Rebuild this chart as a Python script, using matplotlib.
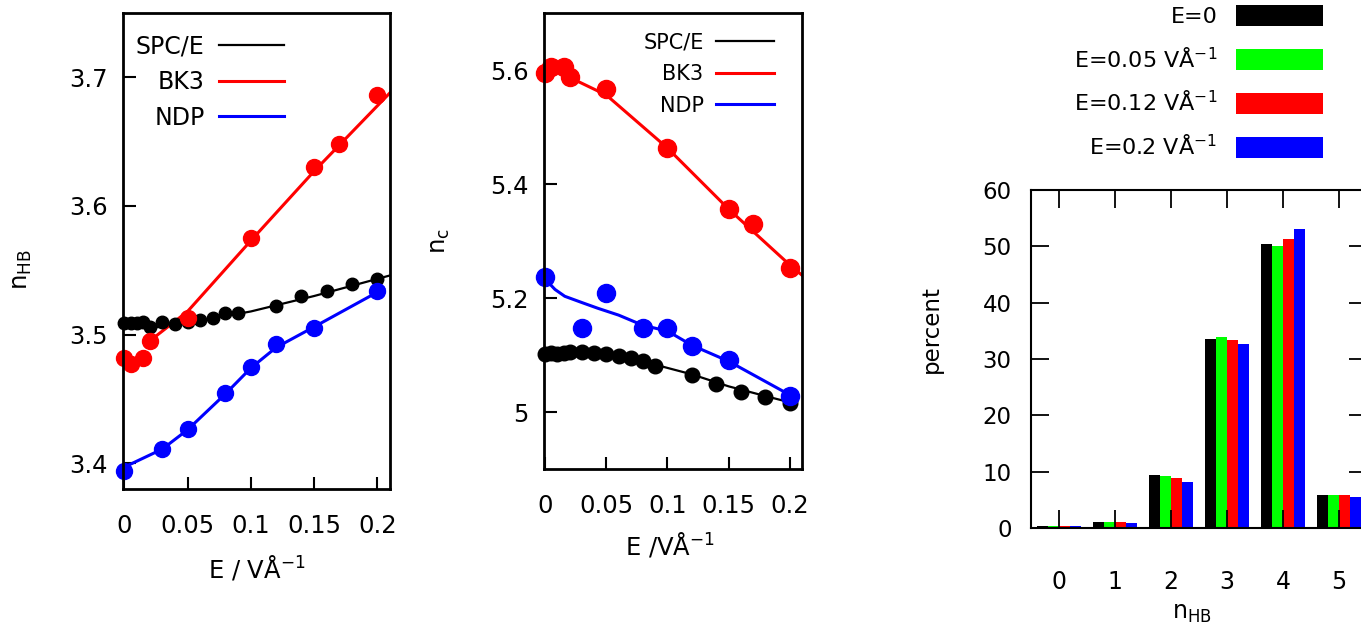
import matplotlib.pyplot as plt
import numpy as np

# ---- left panel: n_HB against field strength ----
spce_E = [0, 0.005, 0.01, 0.015, 0.02, 0.03, 0.04, 0.05, 0.06, 0.07, 0.08, 0.09, 0.12, 0.14, 0.16, 0.18, 0.2]
spce_nhb = [3.509, 3.509, 3.509, 3.510, 3.506, 3.510, 3.508, 3.510, 3.511, 3.513, 3.517, 3.517,
            3.522, 3.530, 3.534, 3.539, 3.543]
bk3_E = [0, 0.005, 0.015, 0.02, 0.05, 0.1, 0.15, 0.17, 0.2]
bk3_nhb = [3.482, 3.477, 3.482, 3.495, 3.513, 3.575, 3.630, 3.648, 3.686]
ndp_E = [0, 0.03, 0.05, 0.08, 0.1, 0.12, 0.15, 0.2]
ndp_nhb = [3.394, 3.411, 3.427, 3.455, 3.475, 3.493, 3.505, 3.534]

# fitted curves
spce_fit_E = [0.02, 0.05, 0.1, 0.15, 0.21]
spce_fit_nhb = [3.505, 3.509, 3.518, 3.530, 3.546]
bk3_fit_E = [0.02, 0.05, 0.1, 0.15, 0.21]
bk3_fit_nhb = [3.495, 3.518, 3.573, 3.627, 3.688]
ndp_fit_E = [0, 0.03, 0.05, 0.08, 0.1, 0.12, 0.15, 0.2, 0.205]
ndp_fit_nhb = [3.397, 3.411, 3.426, 3.454, 3.474, 3.490, 3.506, 3.533, 3.536]

# ---- middle panel: n_c against field strength ----
spce_nc = [5.102, 5.104, 5.102, 5.103, 5.106, 5.106, 5.104, 5.102, 5.099, 5.095, 5.090, 5.080,
           5.065, 5.049, 5.035, 5.027, 5.015]
bk3_nc = [5.594, 5.606, 5.606, 5.587, 5.567, 5.463, 5.356, 5.330, 5.253]
ndp_nc = [5.237, 5.148, 5.209, 5.148, 5.148, 5.115, 5.091, 5.028]

spce_fitc_E = [0, 0.03, 0.06, 0.09, 0.12, 0.15, 0.18, 0.2]
spce_fitc_nc = [5.102, 5.103, 5.098, 5.083, 5.066, 5.045, 5.028, 5.017]
bk3_fitc_E = [0.02, 0.05, 0.1, 0.15, 0.2, 0.21]
bk3_fitc_nc = [5.587, 5.556, 5.463, 5.356, 5.258, 5.240]
ndp_fitc_E = [0, 0.008, 0.016, 0.03, 0.043, 0.06, 0.08, 0.1, 0.12, 0.15, 0.2]
ndp_fitc_nc = [5.233, 5.215, 5.203, 5.192, 5.182, 5.170, 5.152, 5.142, 5.117, 5.089, 5.030]

# ---- right panel: n_HB distribution ----
nhb_bins = [0, 1, 2, 3, 4, 5]
pct_E0 = [0.3, 1.07, 9.34, 33.6, 50.4, 5.85]
pct_E005 = [0.3, 1.0, 9.2, 33.9, 50.0, 5.85]
pct_E012 = [0.35, 1.0, 8.84, 33.4, 51.3, 5.85]
pct_E02 = [0.3, 0.85, 8.1, 32.6, 53.0, 5.55]
bar_labels = ['E=0', 'E=0.05 VÅ$^{-1}$', 'E=0.12 VÅ$^{-1}$', 'E=0.2 VÅ$^{-1}$']
bar_colors = ['#000000', '#00ff00', '#ff0000', '#0000ff']

plt.rcParams['font.family'] = ['DejaVu Sans']
plt.rcParams['mathtext.default'] = 'regular'

W, H = 1361, 627
fig = plt.figure(figsize=(W / 100, H / 100), dpi=100)


def px_axes(x0, y0, x1, y1):
    # axes from pixel box (top-left origin)
    return fig.add_axes([x0 / W, 1 - y1 / H, (x1 - x0) / W, (y1 - y0) / H])


def style_line_axes(ax):
    for sp in ax.spines.values():
        sp.set_linewidth(2.0)
    ax.tick_params(direction='in', length=9, width=1.5, labelsize=17.5, top=False, right=False)
    ax.tick_params(axis='y', pad=11)
    ax.tick_params(axis='x', pad=18)


# left panel
ax1 = px_axes(123, 13, 390, 489)
ax1.plot(spce_fit_E, spce_fit_nhb, color='black', lw=1.6, label='SPC/E')
ax1.plot(bk3_fit_E, bk3_fit_nhb, color='#ff0000', lw=2.2, label='BK3')
ax1.plot(ndp_fit_E, ndp_fit_nhb, color='#0000ff', lw=2.2, label='NDP')
ax1.plot(spce_E, spce_nhb, 'o', color='black', ms=9, clip_on=False)
ax1.plot(bk3_E, bk3_nhb, 'o', color='#ff0000', ms=11.5, clip_on=False)
ax1.plot(ndp_E, ndp_nhb, 'o', color='#0000ff', ms=11.5, clip_on=False)
ax1.set_xlim(-0.001, 0.21)
ax1.set_ylim(3.38, 3.75)
ax1.set_xticks([0, 0.05, 0.1, 0.15, 0.2])
ax1.set_xticklabels(['0', '0.05', '0.1', '0.15', '0.2'])
ax1.set_yticks([3.4, 3.5, 3.6, 3.7])
style_line_axes(ax1)
ax1.set_xlabel('E / VÅ$^{-1}$', fontsize=17.5)
ax1.xaxis.set_label_coords(0.50, -0.135)
ax1.set_ylabel('n$_{HB}$', fontsize=17.5)
ax1.yaxis.set_label_coords(-0.335, 0.46)
ax1.legend(loc='upper right', bbox_to_anchor=(284 / W, 1 - 34 / H), bbox_transform=fig.transFigure,
           frameon=False, markerfirst=False, fontsize=17, handlelength=2.75, handletextpad=0.62,
           labelspacing=0.5, borderpad=0, borderaxespad=0)

# middle panel
ax2 = px_axes(544, 13, 802, 469)
ax2.plot(spce_fitc_E, spce_fitc_nc, color='black', lw=1.6, label='SPC/E')
ax2.plot(bk3_fitc_E, bk3_fitc_nc, color='#ff0000', lw=2.2, label='BK3')
ax2.plot(ndp_fitc_E, ndp_fitc_nc, color='#0000ff', lw=2.2, label='NDP')
ax2.plot(spce_E, spce_nc, 'o', color='black', ms=10.5, clip_on=False)
ax2.plot(bk3_E, bk3_nc, 'o', color='#ff0000', ms=13, clip_on=False)
ax2.plot(ndp_E, ndp_nc, 'o', color='#0000ff', ms=13, clip_on=False)
ax2.set_xlim(-0.001, 0.21)
ax2.set_ylim(4.9, 5.7)
ax2.set_xticks([0, 0.05, 0.1, 0.15, 0.2])
ax2.set_xticklabels(['0', '0.05', '0.1', '0.15', '0.2'])
ax2.set_yticks([5.0, 5.2, 5.4, 5.6])
ax2.set_yticklabels(['5', '5.2', '5.4', '5.6'])
style_line_axes(ax2)
ax2.set_xlabel('E /VÅ$^{-1}$', fontsize=17.5)
ax2.xaxis.set_label_coords(0.49, -0.135)
ax2.set_ylabel('n$_c$', fontsize=17.5)
ax2.yaxis.set_label_coords(-0.355, 0.50)
ax2.legend(loc='upper right', bbox_to_anchor=(774 / W, 1 - 32 / H), bbox_transform=fig.transFigure,
           frameon=False, markerfirst=False, fontsize=15, handlelength=2.8, handletextpad=0.58,
           labelspacing=0.57, borderpad=0, borderaxespad=0)

# right panel, cut off at the right edge of the image
ax3 = px_axes(1031, 190, 1367, 528)
x = np.arange(len(nhb_bins))
for i, (vals, lab, col) in enumerate(zip([pct_E0, pct_E005, pct_E012, pct_E02], bar_labels, bar_colors)):
    ax3.bar(x - 0.3 + 0.2 * i, vals, width=0.2, color=col, edgecolor='none', label=lab)
ax3.set_xlim(-0.5, 5.5)
ax3.set_ylim(0, 60)
ax3.set_xticks(nhb_bins)
ax3.set_yticks([0, 10, 20, 30, 40, 50, 60])
for sp in ax3.spines.values():
    sp.set_linewidth(1.5)
ax3.tick_params(direction='in', length=13, width=1.3, labelsize=16.5, top=True, right=True)
ax3.tick_params(axis='y', pad=14)
ax3.tick_params(axis='x', pad=30, labelsize=17)
ax3.set_xlabel('n$_{HB}$', fontsize=17)
ax3.xaxis.set_label_coords(0.48, -0.215)
ax3.set_ylabel('percent', fontsize=16.5)
ax3.yaxis.set_label_coords(-0.262, 0.59)
ax3.legend(loc='upper right', bbox_to_anchor=(1323 / W, 1 - 5 / H), bbox_transform=fig.transFigure,
           frameon=False, markerfirst=False, fontsize=16, handlelength=3.9, handleheight=1.1,
           handletextpad=0.85, labelspacing=0.86, borderpad=0, borderaxespad=0)

fig.savefig('out.png', dpi=100)
